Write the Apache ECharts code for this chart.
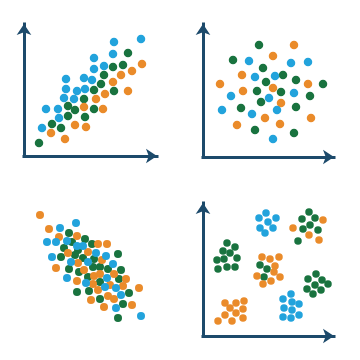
<!DOCTYPE html>
<html>
<head>
<meta charset="utf-8">
<script src="https://cdn.jsdelivr.net/npm/echarts@6/dist/echarts.min.js"></script>
<style>
html, body { margin: 0; padding: 0; background: #fff; }
#chart { width: 360px; height: 360px; }
</style>
</head>
<body>
<div id="chart"></div>
<script>
// positive correlation (top left)
var posBlue = [[90,114],[117,117],[89,102],[70,98],[80,90],[70,87],[42,77],[60,78],[68,76],[42,67],[53,65],[61,67],[40,58],[50,57],[22,47],[34,47],[35,38],[18,28]];
var posGreen = [[104,103],[99,91],[89,89],[80,81],[77,72],[70,66],[90,65],[60,57],[44,50],[51,46],[70,47],[44,40],[61,39],[28,32],[37,28],[15,13]];
var posOrange = [[118,92],[108,85],[97,81],[89,74],[104,65],[81,62],[72,57],[60,49],[79,47],[51,31],[62,29],[27,23],[41,17]];

// no correlation (top right)
var noneGreen = [[56,112],[30,97],[60,89],[80,82],[93,77],[63,75],[120,73],[54,66],[78,65],[107,61],[58,55],[38,49],[93,50],[52,27],[91,24]];
var noneBlue = [[46,96],[88,94],[105,95],[52,80],[72,81],[91,64],[28,61],[66,59],[19,47],[74,47],[49,43],[70,18]];
var noneOrange = [[91,112],[70,101],[39,82],[17,73],[105,73],[40,66],[70,69],[78,54],[62,39],[108,39],[34,32],[77,33]];

// negative correlation (bottom left)
var negGreen = [[45,103],[48,94],[61,97],[68,92],[40,88],[54,86],[37,79],[51,81],[59,78],[70,77],[94,82],[45,67],[55,64],[69,69],[76,69],[84,67],[97,66],[64,59],[76,54],[95,57],[53,44],[65,45],[105,43],[76,37],[99,32],[94,18]];
var negOrange = [[16,121],[25,107],[35,99],[53,100],[74,92],[83,92],[44,83],[64,84],[54,73],[78,76],[32,68],[60,66],[76,62],[90,62],[70,60],[102,57],[53,55],[69,52],[86,51],[99,50],[115,48],[74,46],[84,40],[90,37],[67,36],[108,31],[80,29]];
var negBlue = [[52,113],[36,108],[23,94],[32,94],[43,95],[53,90],[59,90],[72,83],[82,80],[28,79],[47,74],[64,74],[89,72],[43,58],[62,53],[83,58],[81,49],[92,48],[97,41],[92,28],[117,20]];

// clusters (bottom right)
var clusBlue = [[63,123],[56,118],[73,118],[65,114],[57,108],[70,108],[62,103],
	[88,42],[80,37],[89,34],[96,32],[81,28],[89,26],[96,21],[80,19],[88,18]];
var clusGreen = [[106,124],[99,117],[112,118],[107,111],[100,107],[115,106],[95,95],
	[24,93],[32,89],[20,85],[27,83],[14,76],[21,77],[34,78],[15,67],[24,69],[32,69],
	[57,71],[64,67],[61,59],
	[113,62],[105,57],[119,56],[112,51],[125,52],[104,47],[118,46],[110,42]];
var clusOrange = [[120,116],[90,108],[106,101],[116,96],
	[59,79],[67,77],[76,79],[72,70],[54,60],[71,64],[77,59],[68,55],[60,52],
	[22,33],[33,33],[41,35],[27,28],[40,27],[22,21],[33,23],[40,18],[15,15],[29,15]];

var BLUE = '#22a3dc';
var GREEN = '#19733f';
var ORANGE = '#ea8b2a';
var AXIS = '#1c4a6b';

var chart = echarts.init(document.getElementById('chart'));

var grids = [
	{ left: 24, top: 24, width: 133, height: 132 },
	{ left: 203, top: 24, width: 131, height: 133 },
	{ left: 24, top: 204, width: 133, height: 132 },
	{ left: 203, top: 203, width: 131, height: 133 }
];
var showAxis = [true, true, false, true];
var dotSize = [8.5, 8.5, 8, 7.5];

var xAxes = [];
var yAxes = [];
for (var i = 0; i < 4; i++) {
	var line = {
		show: showAxis[i],
		symbol: ['none', 'arrow'],
		symbolSize: [11, 11],
		lineStyle: { color: AXIS, width: 3, cap: 'square' }
	};
	xAxes.push({
		gridIndex: i, type: 'value', min: 0, max: grids[i].width,
		axisLine: line, axisTick: { show: false }, axisLabel: { show: false }, splitLine: { show: false }
	});
	yAxes.push({
		gridIndex: i, type: 'value', min: 0, max: grids[i].height,
		axisLine: line, axisTick: { show: false }, axisLabel: { show: false }, splitLine: { show: false }
	});
}

function dots(idx, data, color) {
	return {
		type: 'scatter',
		xAxisIndex: idx,
		yAxisIndex: idx,
		data: data,
		symbolSize: dotSize[idx],
		itemStyle: { color: color, opacity: 1 },
		silent: true
	};
}

chart.setOption({
	animation: false,
	grid: grids,
	xAxis: xAxes,
	yAxis: yAxes,
	series: [
		dots(0, posGreen, GREEN), dots(0, posOrange, ORANGE), dots(0, posBlue, BLUE),
		dots(1, noneGreen, GREEN), dots(1, noneOrange, ORANGE), dots(1, noneBlue, BLUE),
		dots(2, negGreen, GREEN), dots(2, negOrange, ORANGE), dots(2, negBlue, BLUE),
		dots(3, clusGreen, GREEN), dots(3, clusOrange, ORANGE), dots(3, clusBlue, BLUE)
	]
});
</script>
</body>
</html>
